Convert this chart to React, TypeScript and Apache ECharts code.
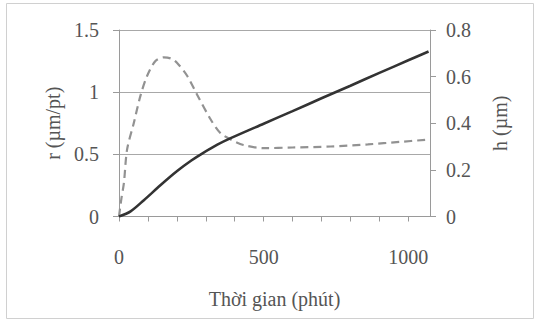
import React, { useEffect, useRef } from "react";
import * as echarts from "echarts";

const rTimes = [0, 8, 17, 28, 51, 74, 97, 126, 155, 180, 201, 236, 270, 317, 351, 386, 430, 500, 600, 732, 860, 970, 1061];
const rValues = [0, 0.14, 0.27, 0.54, 0.75, 0.97, 1.13, 1.25, 1.28, 1.27, 1.235, 1.13, 0.98, 0.78, 0.67, 0.62, 0.575, 0.55, 0.555, 0.563, 0.58, 0.6, 0.617];

const hTimes = [0, 40, 86, 144, 201, 250, 290, 340, 386, 500, 600, 700, 800, 900, 1000, 1070];
const hValues = [0, 0.022, 0.07, 0.135, 0.195, 0.24, 0.272, 0.308, 0.336, 0.398, 0.452, 0.507, 0.561, 0.616, 0.67, 0.708];

const xTicksLabelled = [0, 500, 1000];

const FONT = "Liberation Serif";
const TXT = "#555555";

export default function App() {
  const ref = useRef<HTMLDivElement>(null);
  useEffect(() => {
    if (!ref.current) return;
    const chart = echarts.init(ref.current, null, { renderer: "svg" });
    chart.setOption({
      animation: false,
      backgroundColor: "#ffffff",
      textStyle: { fontFamily: FONT, color: TXT },
      graphic: [
        {
          type: "rect",
          shape: { x: 6.5, y: 3.5, width: 527, height: 315 },
          style: { fill: "none", stroke: "#d0d0d0", lineWidth: 1 },
          silent: true,
        },
      ],
      grid: { left: 119, right: 107, top: 30, bottom: 105.5 },
      xAxis: {
        type: "value",
        min: 0,
        max: 1075,
        interval: 100,
        name: "Thời gian (phút)",
        nameLocation: "middle",
        nameGap: 72,
        nameTextStyle: { fontFamily: FONT, fontSize: 20, color: TXT },
        axisLine: { show: true, lineStyle: { color: "#9a9a9a", width: 1 } },
        axisTick: { show: true, length: 5, inside: false, lineStyle: { color: "#9a9a9a" } },
        splitLine: { show: false },
        axisLabel: {
          margin: 30,
          fontFamily: FONT,
          fontSize: 20,
          color: TXT,
          showMaxLabel: false,
          formatter: (v: number) => (xTicksLabelled.includes(v) ? String(v) : ""),
        },
      },
      yAxis: [
        {
          type: "value",
          min: 0,
          max: 1.5,
          interval: 0.5,
          position: "left",
          name: "r (µm/pt)",
          nameLocation: "middle",
          nameRotate: 90,
          nameGap: 54,
          nameTextStyle: { fontFamily: FONT, fontSize: 20, color: TXT },
          axisLine: { show: true, lineStyle: { color: "#9a9a9a" } },
          axisTick: { show: true, length: 6, inside: false, lineStyle: { color: "#9a9a9a" } },
          splitLine: { show: true, lineStyle: { color: "#a8a8a8", width: 1 } },
          axisLabel: { margin: 20, fontFamily: FONT, fontSize: 20, color: TXT },
        },
        {
          type: "value",
          min: 0,
          max: 0.8,
          interval: 0.2,
          position: "right",
          name: "h (µm)",
          nameLocation: "middle",
          nameRotate: 90,
          nameGap: 60,
          nameTextStyle: { fontFamily: FONT, fontSize: 20, color: TXT },
          axisLine: { show: true, lineStyle: { color: "#9a9a9a" } },
          axisTick: { show: true, length: 6, inside: false, lineStyle: { color: "#9a9a9a" } },
          splitLine: { show: false },
          axisLabel: { margin: 16, fontFamily: FONT, fontSize: 20, color: TXT },
        },
      ],
      series: [
        {
          name: "r",
          type: "line",
          yAxisIndex: 0,
          data: rTimes.map((t, i) => [t, rValues[i]]),
          smooth: 0.3,
          showSymbol: false,
          lineStyle: { color: "#929292", width: 2.2, type: [8, 5] },
        },
        {
          name: "h",
          type: "line",
          yAxisIndex: 1,
          data: hTimes.map((t, i) => [t, hValues[i]]),
          smooth: 0.3,
          showSymbol: false,
          lineStyle: { color: "#333333", width: 2.6 },
        },
      ],
    });
    return () => chart.dispose();
  }, []);
  return (
    <div
      ref={ref}
      style={{ position: "fixed", left: 0, top: 0, width: 537, height: 322 }}
    />
  );
}
